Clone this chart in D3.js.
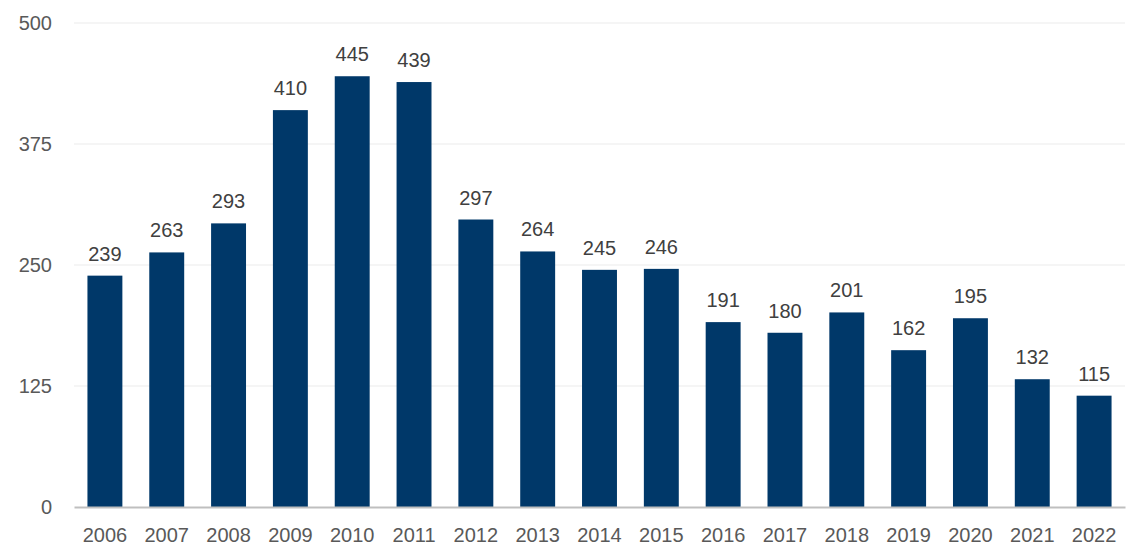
<!DOCTYPE html>
<html>
<head>
<meta charset="utf-8">
<script src="https://cdn.jsdelivr.net/npm/d3@7"></script>
<style>
  body { margin: 0; background: #fff; }
  text { font-family: "Liberation Sans", Arial, sans-serif; }
</style>
</head>
<body>
<div id="chart"></div>
<script>
// data
const years = ["2006","2007","2008","2009","2010","2011","2012","2013","2014","2015","2016","2017","2018","2019","2020","2021","2022"];
const values = [239, 263, 293, 410, 445, 439, 297, 264, 245, 246, 191, 180, 201, 162, 195, 132, 115];
const yTicks = [0, 125, 250, 375, 500];

const W = 1131, H = 545;
const margin = {top: 23, right: 6, bottom: 38, left: 74};
const width = W - margin.left - margin.right,
      height = H - margin.top - margin.bottom;

const svg = d3.select("#chart").append("svg")
    .attr("width", W)
    .attr("height", H)
  .append("g")
    .attr("transform", `translate(${margin.left},${margin.top})`);

const data = years.map((y, i) => ({year: y, value: values[i]}));

const x = d3.scaleBand()
  .domain(years)
  .range([0, width])
  .paddingInner(0.435)
  .paddingOuter(0.2175);

const y = d3.scaleLinear()
  .domain([0, 500])
  .range([height, 0]);

// gridlines
svg.append("g")
  .selectAll("line")
  .data(yTicks.filter(d => d > 0))
  .join("line")
    .attr("x1", 0)
    .attr("x2", width)
    .attr("y1", d => y(d))
    .attr("y2", d => y(d))
    .attr("stroke", "#ebebeb")
    .attr("stroke-width", 1.2);

// y axis labels
const yAxis = svg.append("g")
  .call(d3.axisLeft(y).tickValues(yTicks).tickSize(0).tickPadding(22));
yAxis.select(".domain").remove();
yAxis.selectAll("text")
  .attr("fill", "#595959")
  .style("font-size", "20px");

// bars
svg.selectAll("rect.bar")
  .data(data)
  .join("rect")
    .attr("class", "bar")
    .attr("x", d => x(d.year))
    .attr("y", d => y(d.value))
    .attr("width", x.bandwidth())
    .attr("height", d => height - y(d.value))
    .attr("fill", "#003869");

// value labels
svg.selectAll("text.val")
  .data(data)
  .join("text")
    .attr("class", "val")
    .attr("x", d => x(d.year) + x.bandwidth() / 2)
    .attr("y", d => y(d.value) - 15)
    .attr("text-anchor", "middle")
    .attr("fill", "#404040")
    .style("font-size", "20px")
    .text(d => d.value);

// x axis
const xAxis = svg.append("g")
  .attr("transform", `translate(0,${height})`)
  .call(d3.axisBottom(x).tickSize(0).tickPadding(21));
xAxis.select(".domain")
  .attr("stroke", "#bfbfbf")
  .attr("stroke-width", 2);
xAxis.selectAll("text")
  .attr("fill", "#595959")
  .style("font-size", "20px");
</script>
</body>
</html>
